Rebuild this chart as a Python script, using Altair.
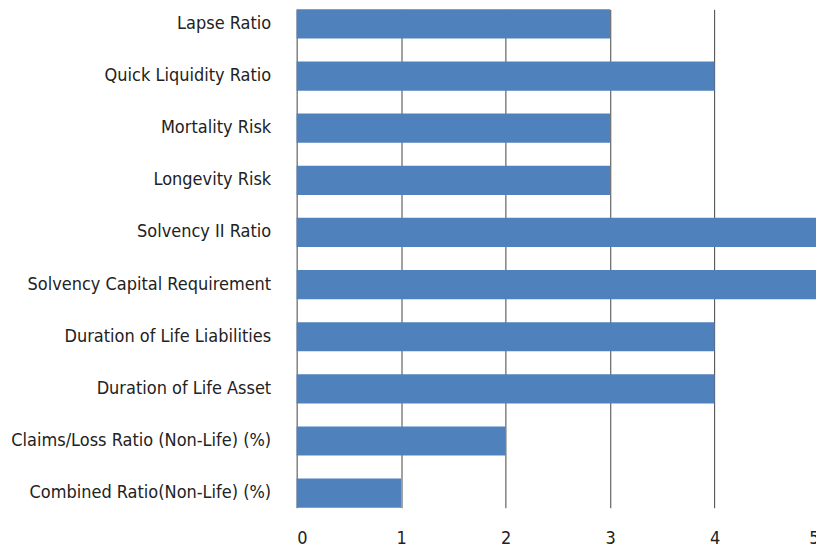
import altair as alt
import pandas as pd

categories = [
    "Lapse Ratio",
    "Quick Liquidity Ratio\u00a0",
    "Mortality Risk",
    "Longevity Risk",
    "Solvency II Ratio",
    "Solvency Capital Requirement",
    "Duration of Life Liabilities",
    "Duration of Life Asset",
    "Claims/Loss Ratio (Non-Life) (%)",
    "Combined Ratio(Non-Life) (%)",
]
values = [3, 4, 3, 3, 5, 5, 4, 4, 2, 1]

df = pd.DataFrame({"category": categories, "value": values})

FONT = "DejaVu Sans Condensed, Liberation Sans Narrow, Roboto, sans-serif"

chart = (
    alt.Chart(df)
    .mark_bar(color="#4f81bd")
    .encode(
        x=alt.X(
            "value:Q",
            scale=alt.Scale(domain=[0, 5], nice=False),
            axis=alt.Axis(
                title=None,
                values=[0, 1, 2, 3, 4, 5],
                format="d",
                grid=True,
                gridColor="#444444",
                gridWidth=1,
                domain=False,
                ticks=False,
                labelPadding=22,
                labelFontSize=18,
                labelFont=FONT,
                labelColor="#222222",
            ),
        ),
        y=alt.Y(
            "category:N",
            sort=None,
            scale=alt.Scale(paddingInner=0.44, paddingOuter=0),
            axis=alt.Axis(
                title=None,
                grid=False,
                domain=False,
                ticks=False,
                labelPadding=26,
                labelFontSize=18,
                labelFont=FONT,
                labelColor="#222222",
                labelLimit=400,
            ),
        ),
    )
    .properties(width=523, height=499, padding={"left": 2, "top": 1, "right": -3, "bottom": 0})
    .configure_view(stroke=None)
)

chart.save("out.html", embed_options={"renderer": "svg", "actions": False})
